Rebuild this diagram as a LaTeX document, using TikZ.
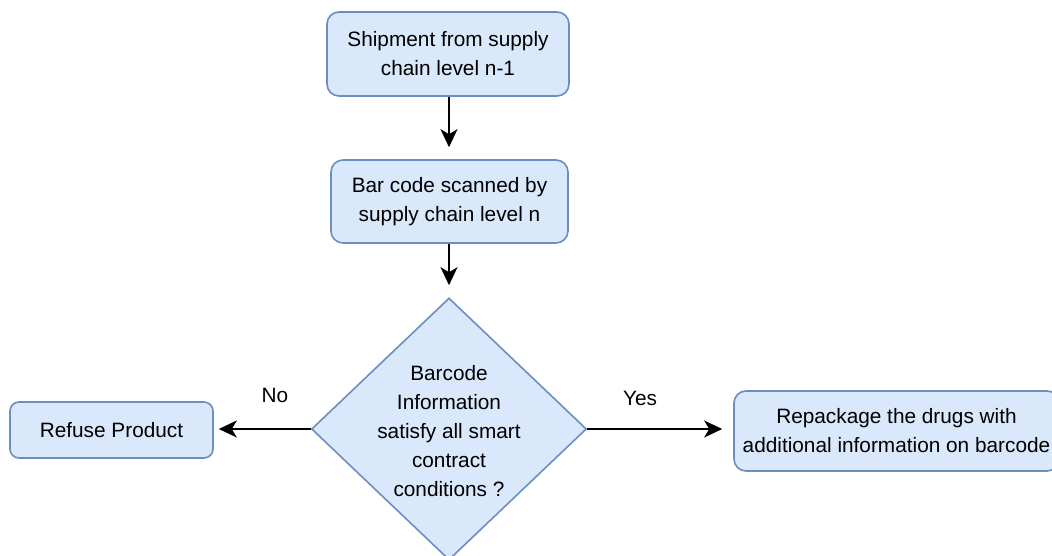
\documentclass[tikz,border=0pt]{standalone}
\usepackage{fontspec}
\setmainfont{Liberation Sans}
\usetikzlibrary{shapes.geometric,arrows.meta}
\definecolor{boxfill}{HTML}{DAE8FC}
\definecolor{boxline}{HTML}{6C8EBF}
\begin{document}
\begin{tikzpicture}[x=1pt,y=-1pt,
  txt/.style={font=\fontsize{20.8}{29}\selectfont},
  proc/.style={txt, draw=boxline, fill=boxfill, line width=1.6pt, rounded corners=12pt, align=center, inner sep=0pt},
  decision/.style={draw=boxline, fill=boxfill, line width=1.6pt, diamond, inner sep=0pt},
  arr/.style={line width=1.8pt, -{Stealth[length=18pt,width=17pt,inset=5pt]}},
  lbl/.style={txt, inner sep=0pt}]
\useasboundingbox (0,0) rectangle (1052,556);
\clip (0,0) rectangle (1052,556);
\node[proc, minimum width=242pt, minimum height=84pt] (s) at (448,54) {Shipment from supply\\chain level n-1};
\node[proc, minimum width=237pt, minimum height=83pt] (b) at (449.5,201.5) {Bar code scanned by\\supply chain level n};
\node[decision, minimum width=275pt, minimum height=262pt] (d) at (449,429) {};
\node[lbl, align=center] (dt) at (449,431) {Barcode\\Information\\satisfy all smart\\contract\\conditions ?};
\node[proc, rounded corners=9pt, minimum width=203pt, minimum height=56pt] (r) at (111.5,430) {Refuse Product};
\node[proc, minimum width=325pt, minimum height=80pt] (p) at (896.5,431) {Repackage the drugs with\\additional information on barcode};
\draw[arr, shorten >=12pt] (s.south -| d.north) -- (b.north -| d.north);
\draw[arr, shorten >=12pt] (b.south -| d.north) -- (d.north);
\draw[arr, shorten >=5pt] (d.west) -- (d.west -| r.east);
\draw[arr, shorten >=11pt] (d.east) -- (d.east -| p.west);
\node[lbl] (no) at (275,395) {No};
\node[lbl] (yes) at (640,398) {Yes};
\end{tikzpicture}
\end{document}
